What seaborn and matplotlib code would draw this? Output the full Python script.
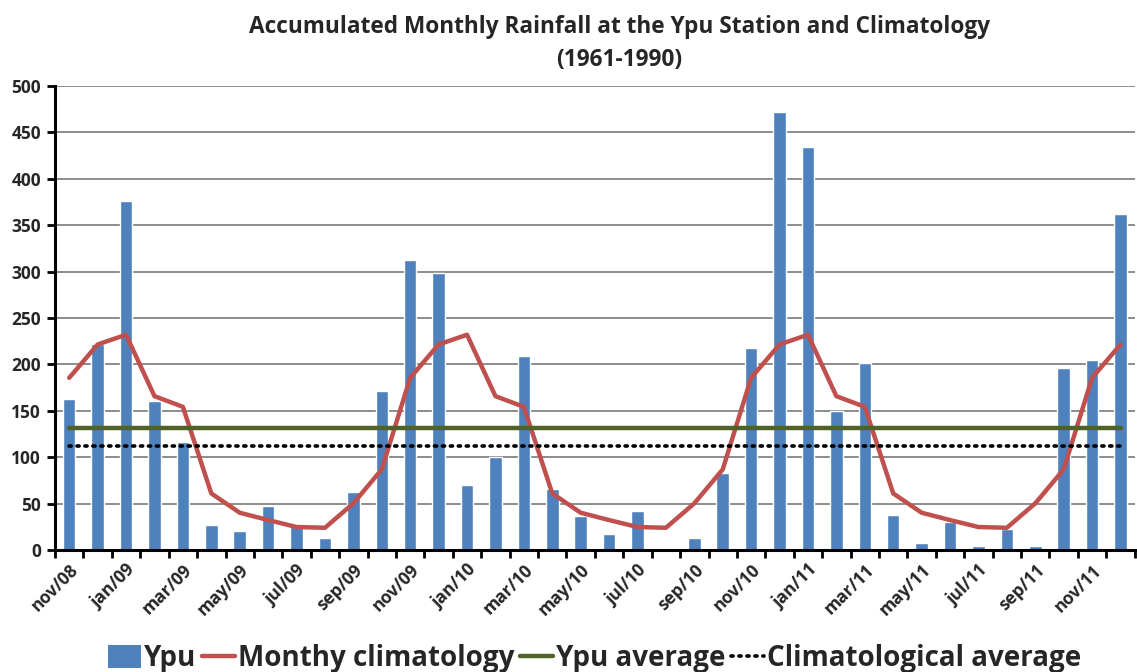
import numpy as np
import pandas as pd
import matplotlib
matplotlib.use("Agg")
import matplotlib.pyplot as plt
from matplotlib.patches import Patch
from matplotlib.lines import Line2D
import seaborn as sns

months = ["nov/08", "dec/08",
          "jan/09", "feb/09", "mar/09", "apr/09", "may/09", "jun/09",
          "jul/09", "aug/09", "sep/09", "oct/09", "nov/09", "dec/09",
          "jan/10", "feb/10", "mar/10", "apr/10", "may/10", "jun/10",
          "jul/10", "aug/10", "sep/10", "oct/10", "nov/10", "dec/10",
          "jan/11", "feb/11", "mar/11", "apr/11", "may/11", "jun/11",
          "jul/11", "aug/11", "sep/11", "oct/11", "nov/11", "dec/11"]

ypu = [163, 222, 376, 161, 116, 27, 20.5, 47, 27.6, 12.6, 62.5, 171,
       312, 299, 70.4, 100, 209.6, 65.7, 37, 17, 41.6, 0, 13.3, 82.6,
       218, 472.4, 434.3, 149.7, 201.4, 38, 7.9, 30.5, 4.3, 22.6, 4.3, 196.3,
       205.3, 362.5]

# 1961-1990 monthly climatology, keyed by month abbreviation
clim_months = ["jan", "feb", "mar", "apr", "may", "jun",
               "jul", "aug", "sep", "oct", "nov", "dec"]
clim_values = [232, 165.8, 154.3, 61, 40.2, 32.3, 24.8, 24, 50.3, 86.9, 185.6, 221.5]
clim_average = 112

clim_lookup = dict(zip(clim_months, clim_values))
df = pd.DataFrame({"month": months, "ypu": ypu})
df["pos"] = np.arange(len(df))
df["clim"] = [clim_lookup[m.split("/")[0]] for m in months]
ypu_average = float(np.mean(ypu))

sns.set_theme(style="white")
plt.rcParams["font.family"] = ["Open Sans", "DejaVu Sans"]

fig = plt.figure(figsize=(11.37, 6.72), dpi=100)
ax = fig.add_axes([0.0484, 0.1815, 0.9496, 0.6905])

bar_color = "#4F81BD"
clim_color = "#C0504D"
avg_color = "#4F6228"

sns.barplot(data=df, x="month", y="ypu", order=months, color=bar_color,
            saturation=1, width=0.44, ax=ax, zorder=2)
sns.lineplot(data=df, x="pos", y="clim", color=clim_color, linewidth=3.2,
             ax=ax, zorder=3)
n = len(df)
ax.plot([0, n - 1], [ypu_average, ypu_average], color=avg_color,
        linewidth=3.2, zorder=3)
ax.plot([0, n - 1], [clim_average, clim_average], color="black",
        linewidth=2.6, linestyle=(0, (0.6, 1.6)), dash_capstyle="round", zorder=3)

ax.set_xlim(-0.5, n - 0.5)
ax.set_ylim(0, 500)
ax.set_yticks(np.arange(0, 501, 50))
ax.yaxis.grid(True, color="#8c8c8c", linewidth=1.4)
ax.set_axisbelow(True)

ax.set_xticks(np.arange(0, n, 2))
ax.set_xticklabels(months[::2], rotation=45, ha="right", rotation_mode="anchor",
                   fontsize=12.5, fontweight="bold")
ax.set_xticks(np.arange(-0.5, n, 1), minor=True)
ax.tick_params(axis="x", which="major", length=0, pad=8)
ax.tick_params(axis="x", which="minor", length=6, width=2, color="black",
               direction="out", bottom=True)
ax.tick_params(axis="y", which="major", length=6, width=2, color="black",
               direction="out", left=True, labelsize=12.5, pad=4)
for lbl in ax.get_yticklabels():
    lbl.set_fontweight("bold")

for side in ["top", "right"]:
    ax.spines[side].set_visible(False)
for side in ["left", "bottom"]:
    ax.spines[side].set_color("black")
    ax.spines[side].set_linewidth(2.2)
ax.set_xlabel("")
ax.set_ylabel("")

fig.text(0.545, 0.960,
         "Accumulated Monthly Rainfall at the Ypu Station and Climatology",
         ha="center", va="center", fontsize=16.3, fontweight="bold")
fig.text(0.545, 0.911, "(1961-1990)", ha="center", va="center",
         fontsize=16.3, fontweight="bold")

handles = [
    Patch(facecolor=bar_color, edgecolor="none"),
    Line2D([], [], color=clim_color, linewidth=3.2),
    Line2D([], [], color=avg_color, linewidth=3.2),
    Line2D([], [], color="black", linewidth=2.6, linestyle=(0, (0.6, 1.6)),
           dash_capstyle="round"),
]
labels = ["Ypu", "Monthy climatology", "Ypu average", "Climatological average"]
fig.legend(handles, labels, loc="center", bbox_to_anchor=(0.523, 0.02),
           ncol=4, frameon=False, handlelength=1.2, handleheight=0.9,
           handletextpad=0.1, columnspacing=0.2,
           prop={"weight": "bold", "size": 20})

fig.savefig("out.png", dpi=100)
